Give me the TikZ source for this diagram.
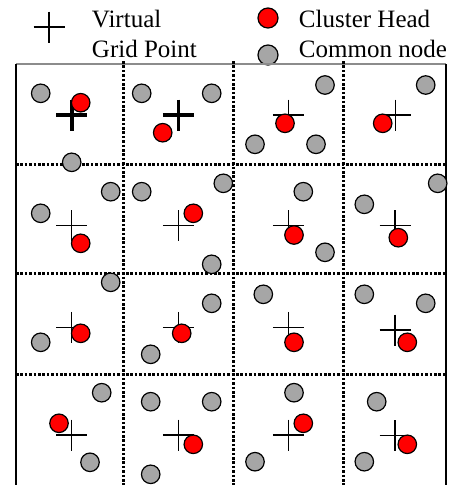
\documentclass[tikz,border=0pt]{standalone}
\usepackage{fontspec}
\setmainfont{Liberation Serif}
\usetikzlibrary{calc}
\definecolor{chred}{HTML}{FF0000}
\definecolor{cngray}{HTML}{A6A6A6}
\definecolor{topline}{HTML}{8C8C8C}

\begin{document}
\begin{tikzpicture}[x=1pt, y=-1pt, line width=1.3pt,
    font=\fontsize{25}{30}\selectfont,
    head/.style={circle, draw=black, fill=chred, line width=1.2pt,
      inner sep=0pt, minimum size=18.5pt},
    common/.style={circle, draw=black, fill=cngray, line width=1.2pt,
      inner sep=0pt, minimum size=18.5pt},
    gridline/.style={line width=3pt, dash pattern=on 2.6pt off 1.8pt},
    gpthin/.style={line width=1.2pt},
    gpbold/.style={line width=3.6pt}]
  \useasboundingbox (0,0) rectangle (453,485);

  % legend
  \coordinate (lg) at (49,27);
  \draw[gpthin] ($(lg)+(-15.5,0)$) -- ($(lg)+(15.5,0)$)
                ($(lg)+(0,-15.5)$) -- ($(lg)+(0,15.5)$);
  \node[anchor=base west] (lvirt) at (88,27) {Virtual};
  \node[anchor=base west] (lgrid) at (88,57) {Grid Point};
  \node[head, minimum size=20pt] (lhead) at (268,18) {};
  \node[common, minimum size=20pt] (lcomm) at (268,55) {};
  \node[anchor=base west] (tlhead) at (295,27) {Cluster Head};
  \node[anchor=base west] (tlcomm) at (295,57) {Common node};

  % field border, open at the bottom
  \draw[topline, line width=1.1pt] (16,64) -- (446,64);
  \draw (16,64) -- (16,485);
  \draw (446,64) -- (446,485);

  % cell boundaries
  \foreach \gx in {123.3,233,343}
    \draw[gridline] (\gx,61) -- (\gx,485);
  \foreach \gy in {164,273,374.3}
    \draw[gridline] (16,\gy) -- (446,\gy);

  % virtual grid points
  \foreach \px/\py/\st [count=\i] in {
      71.7/115/gpbold, 178.3/115/gpbold, 288.3/115/gpthin, 395.7/115/gpthin,
      71.7/225.7/gpthin, 178.3/225.7/gpthin, 288.3/225.7/gpthin, 395/225.7/gpthin,
      71.7/327.3/gpthin, 178.3/327.3/gpthin, 288.3/327.3/gpthin, 395/330/gpthin,
      71.7/435/gpthin, 178.3/435/gpthin, 288.3/435/gpthin, 395/435.7/gpthin} {
    \coordinate (g\i) at (\px,\py);
    \draw[\st] ($(g\i)+(-15.5,0)$) -- ($(g\i)+(15.5,0)$)
               ($(g\i)+(0,-15.5)$) -- ($(g\i)+(0,15.5)$);
  }

  % common nodes
  \foreach \px/\py [count=\i] in {
      40.7/93.3, 71.7/162.3, 141.7/93.3, 211.7/93.3,
      325/85, 255/144.3, 316/144.3, 425.7/85,
      40.7/213.3, 110.7/191.7, 141.7/191.7, 223.3/183.3, 211.7/264.3,
      303.3/191.7, 325/252.3, 437.7/183.3, 364.3/204.3,
      110.7/282.3, 40.7/342.3, 211.7/303.3, 150.7/354.3,
      263.3/294.3, 364.3/294.3, 425.7/303.3,
      101.7/392.7, 90/462.3, 150.7/401.7, 211.7/401.7, 150.7/474.3,
      294/392.7, 255/461.7, 376.7/401.7, 364.3/461.7}
    \node[common] (n\i) at (\px,\py) {};

  % cluster heads, one per cell
  \foreach \px/\py [count=\i] in {
      80.7/102.7, 162.7/132.7, 285/123.3, 382.7/123.3,
      80.7/243.3, 193.3/213.3, 294/235, 398.3/237.7,
      80.7/333.3, 181.7/333.3, 294/342.3, 407.3/342.3,
      59/423.3, 193.3/444.3, 303.3/423.3, 407.3/444.3}
    \node[head] (h\i) at (\px,\py) {};
\end{tikzpicture}
\end{document}
